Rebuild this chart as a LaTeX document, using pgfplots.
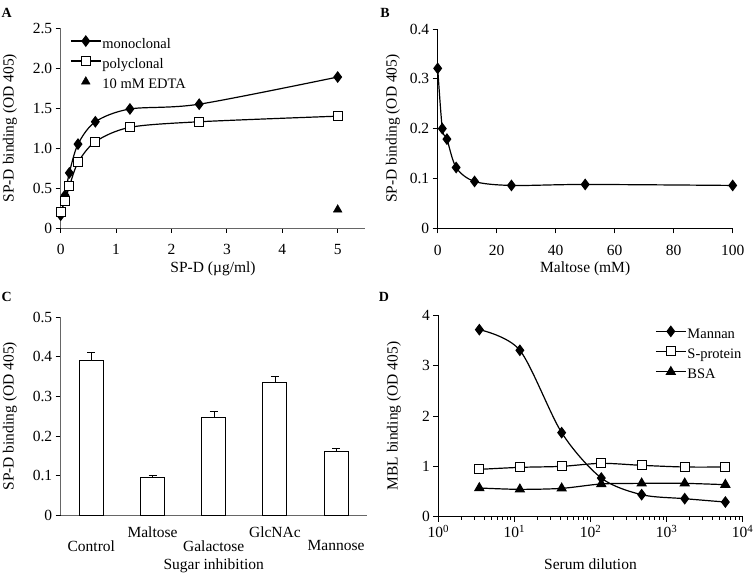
\documentclass[border=0pt]{standalone}
\usepackage{fontspec}
\setmainfont{Liberation Serif}
\usepackage{pgfplots}
\pgfplotsset{compat=1.18}
\begin{document}
\begin{tikzpicture}
\useasboundingbox (0pt,0pt) rectangle (753pt,582pt);
\pgfplotsset{
  panel/.style={scale only axis, clip=false,
    axis x line=bottom, axis y line=left,
    axis line style={-, line width=0.9pt},
    every tick/.style={black, line width=0.9pt},
    major tick length=5pt, tick align=outside,
    tick label style={font=\fontsize{15.5}{18}\selectfont},
    label style={font=\fontsize{15.5}{18}\selectfont},
    legend style={font=\fontsize{14.5}{17}\selectfont, draw=none, fill=none, inner sep=0pt, row sep=4.5pt,
      nodes={inner sep=1pt, text height=10pt, text depth=3pt}},
    legend cell align=left,
    legend image code/.code={\draw[mark repeat=2,mark phase=2] plot coordinates {(0pt,3.5pt)(15pt,3.5pt)(30pt,3.5pt)};},
    /pgf/number format/assume math mode=true,
  },
  ln/.style={black, line width=1.2pt, smooth, mark options={solid}},
}
% ---------------- Panel A
\begin{axis}[panel, at={(60.7pt,354pt)}, anchor=south west, width=304.7pt, height=199.7pt,
  axis line style={black!60},
  xmin=0, xmax=5.5, ymin=0, ymax=2.5,
  xtick={0,1,2,3,4,5}, xticklabels={0,1,2,3,4,5},
  ytick={0,0.5,1,1.5,2,2.5}, yticklabels={0,0.5,1.0,1.5,2.0,2.5},
  xticklabel style={yshift=-8pt},
  xlabel={SP-D (µg/ml)}, ylabel={SP-D binding (OD 405)},
  x label style={at={(axis description cs:0.5,-0.2030)}, anchor=center},
  y label style={at={(axis description cs:-0.1664,0.5)}, anchor=center},
  legend style={at={(axis description cs:0.0305,0.962)}, anchor=north west}]
\addplot[ln, mark=diamond*, mark size=5pt] coordinates {(0,0.16)(0.078,0.41)(0.156,0.69)(0.3125,1.05)(0.625,1.33)(1.25,1.49)(2.5,1.55)(5,1.89)};
\addlegendentry{monoclonal}
\addplot[ln, mark=square*, mark size=4.5pt, mark options={fill=white, line width=1pt}] coordinates {(0,0.20)(0.078,0.34)(0.156,0.52)(0.3125,0.82)(0.625,1.08)(1.25,1.26)(2.5,1.33)(5,1.40)};
\addlegendentry{polyclonal}
\addplot[black, only marks, mark=triangle*, mark size=5pt, legend image code/.code={\draw plot coordinates {(15pt,3.5pt)};}] coordinates {(5,0.23)};
\addlegendentry{10 mM EDTA}
\end{axis}
% ---------------- Panel B
\begin{axis}[panel, at={(437.7pt,353.7pt)}, anchor=south west, width=295pt, height=199.3pt,
  xmin=0, xmax=100, ymin=0, ymax=0.4,
  xtick={0,20,40,60,80,100}, xticklabels={0,20,40,60,80,100},
  ytick={0,0.1,0.2,0.3,0.4}, yticklabels={0,0.1,0.2,0.3,0.4},
  xticklabel style={yshift=-8pt},
  xlabel={Maltose (mM)}, ylabel={SP-D binding (OD 405)},
  x label style={at={(axis description cs:0.5,-0.2007)}, anchor=center},
  y label style={at={(axis description cs:-0.1515,0.5)}, anchor=center}]
\addplot[ln, mark=diamond*, mark size=5pt] coordinates {(0,0.321)(1.5625,0.2)(3.125,0.179)(6.25,0.122)(12.5,0.094)(25,0.086)(50,0.088)(100,0.086)};
\end{axis}
% ---------------- Panel C
\begin{axis}[panel, at={(60.7pt,66.7pt)}, anchor=south west, width=306pt, height=198pt,
  axis line style={black!60},
  xmin=0.5, xmax=5.5, ymin=0, ymax=0.5,
  xtick={1,3,5}, xticklabels={Control,Galactose,Mannose},
  x tick style={draw=none},
  xticklabel style={yshift=-17pt},
  extra x ticks={2,4}, extra x tick labels={Maltose,GlcNAc},
  extra x tick style={x tick style={draw=none}, xticklabel style={yshift=14pt}},
  ytick={0,0.1,0.2,0.3,0.4,0.5}, yticklabels={0,0.1,0.2,0.3,0.4,0.5},
  xlabel={Sugar inhibition}, ylabel={SP-D binding (OD 405)},
  x label style={at={(axis description cs:0.5,-0.2525)}, anchor=center},
  y label style={at={(axis description cs:-0.1657,0.5)}, anchor=center}]
\addplot[ybar, bar width=24pt, bar shift=0pt, fill=white, draw=black, line width=1pt,
  error bars/.cd, y dir=plus, y explicit, error mark options={rotate=90, mark size=4pt, line width=1pt}]
  coordinates {(1,0.391) +- (0,0.021) (2,0.095) +- (0,0.005) (3,0.247) +- (0,0.016) (4,0.336) +- (0,0.015) (5,0.161) +- (0,0.007)};
\end{axis}
% ---------------- Panel D
\begin{axis}[panel, at={(438.3pt,65.3pt)}, anchor=south west, width=304.4pt, height=201.4pt,
  xmode=log, xmin=1, xmax=10000, ymin=0, ymax=4,
  xtick={1,10,100,1000,10000},
  xticklabels={10\textsuperscript{0},10\textsuperscript{1},10\textsuperscript{2},10\textsuperscript{3},10\textsuperscript{4}},
  minor xtick={},
  xticklabel style={yshift=0pt},
  ytick={0,1,2,3,4}, yticklabels={0,1,2,3,4},
  xlabel={Serum dilution}, ylabel={MBL binding (OD 405)},
  x label style={at={(axis description cs:0.5,-0.238)}, anchor=center},
  y label style={at={(axis description cs:-0.1455,0.5)}, anchor=center},
  legend style={at={(axis description cs:0.712,0.946)}, anchor=north west}]
\addplot[ln, mark=diamond*, mark size=5pt] coordinates {(3.46,3.715)(11.8,3.305)(41.8,1.669)(138.7,0.768)(470,0.437)(1729,0.358)(5918,0.291)};
\addlegendentry{Mannan}
\addplot[ln, mark=square*, mark size=4.5pt, mark options={fill=white, line width=1pt}] coordinates {(3.46,0.94)(11.8,0.98)(41.8,1.0)(138.7,1.06)(470,1.02)(1729,0.987)(5918,0.987)};
\addlegendentry{S-protein}
\addplot[ln, mark=triangle*, mark size=5pt] coordinates {(3.46,0.57)(11.8,0.543)(41.8,0.563)(138.7,0.65)(470,0.662)(1729,0.662)(5918,0.636)};
\addlegendentry{BSA}
\end{axis}
% panel letters
\node[font=\bfseries\fontsize{14}{16}\selectfont] at (6.7pt,569pt) {A};
\node[font=\bfseries\fontsize{14}{16}\selectfont] at (385pt,569pt) {B};
\node[font=\bfseries\fontsize{14}{16}\selectfont] at (6.7pt,285pt) {C};
\node[font=\bfseries\fontsize{14}{16}\selectfont] at (384pt,285pt) {D};
\end{tikzpicture}
\end{document}
